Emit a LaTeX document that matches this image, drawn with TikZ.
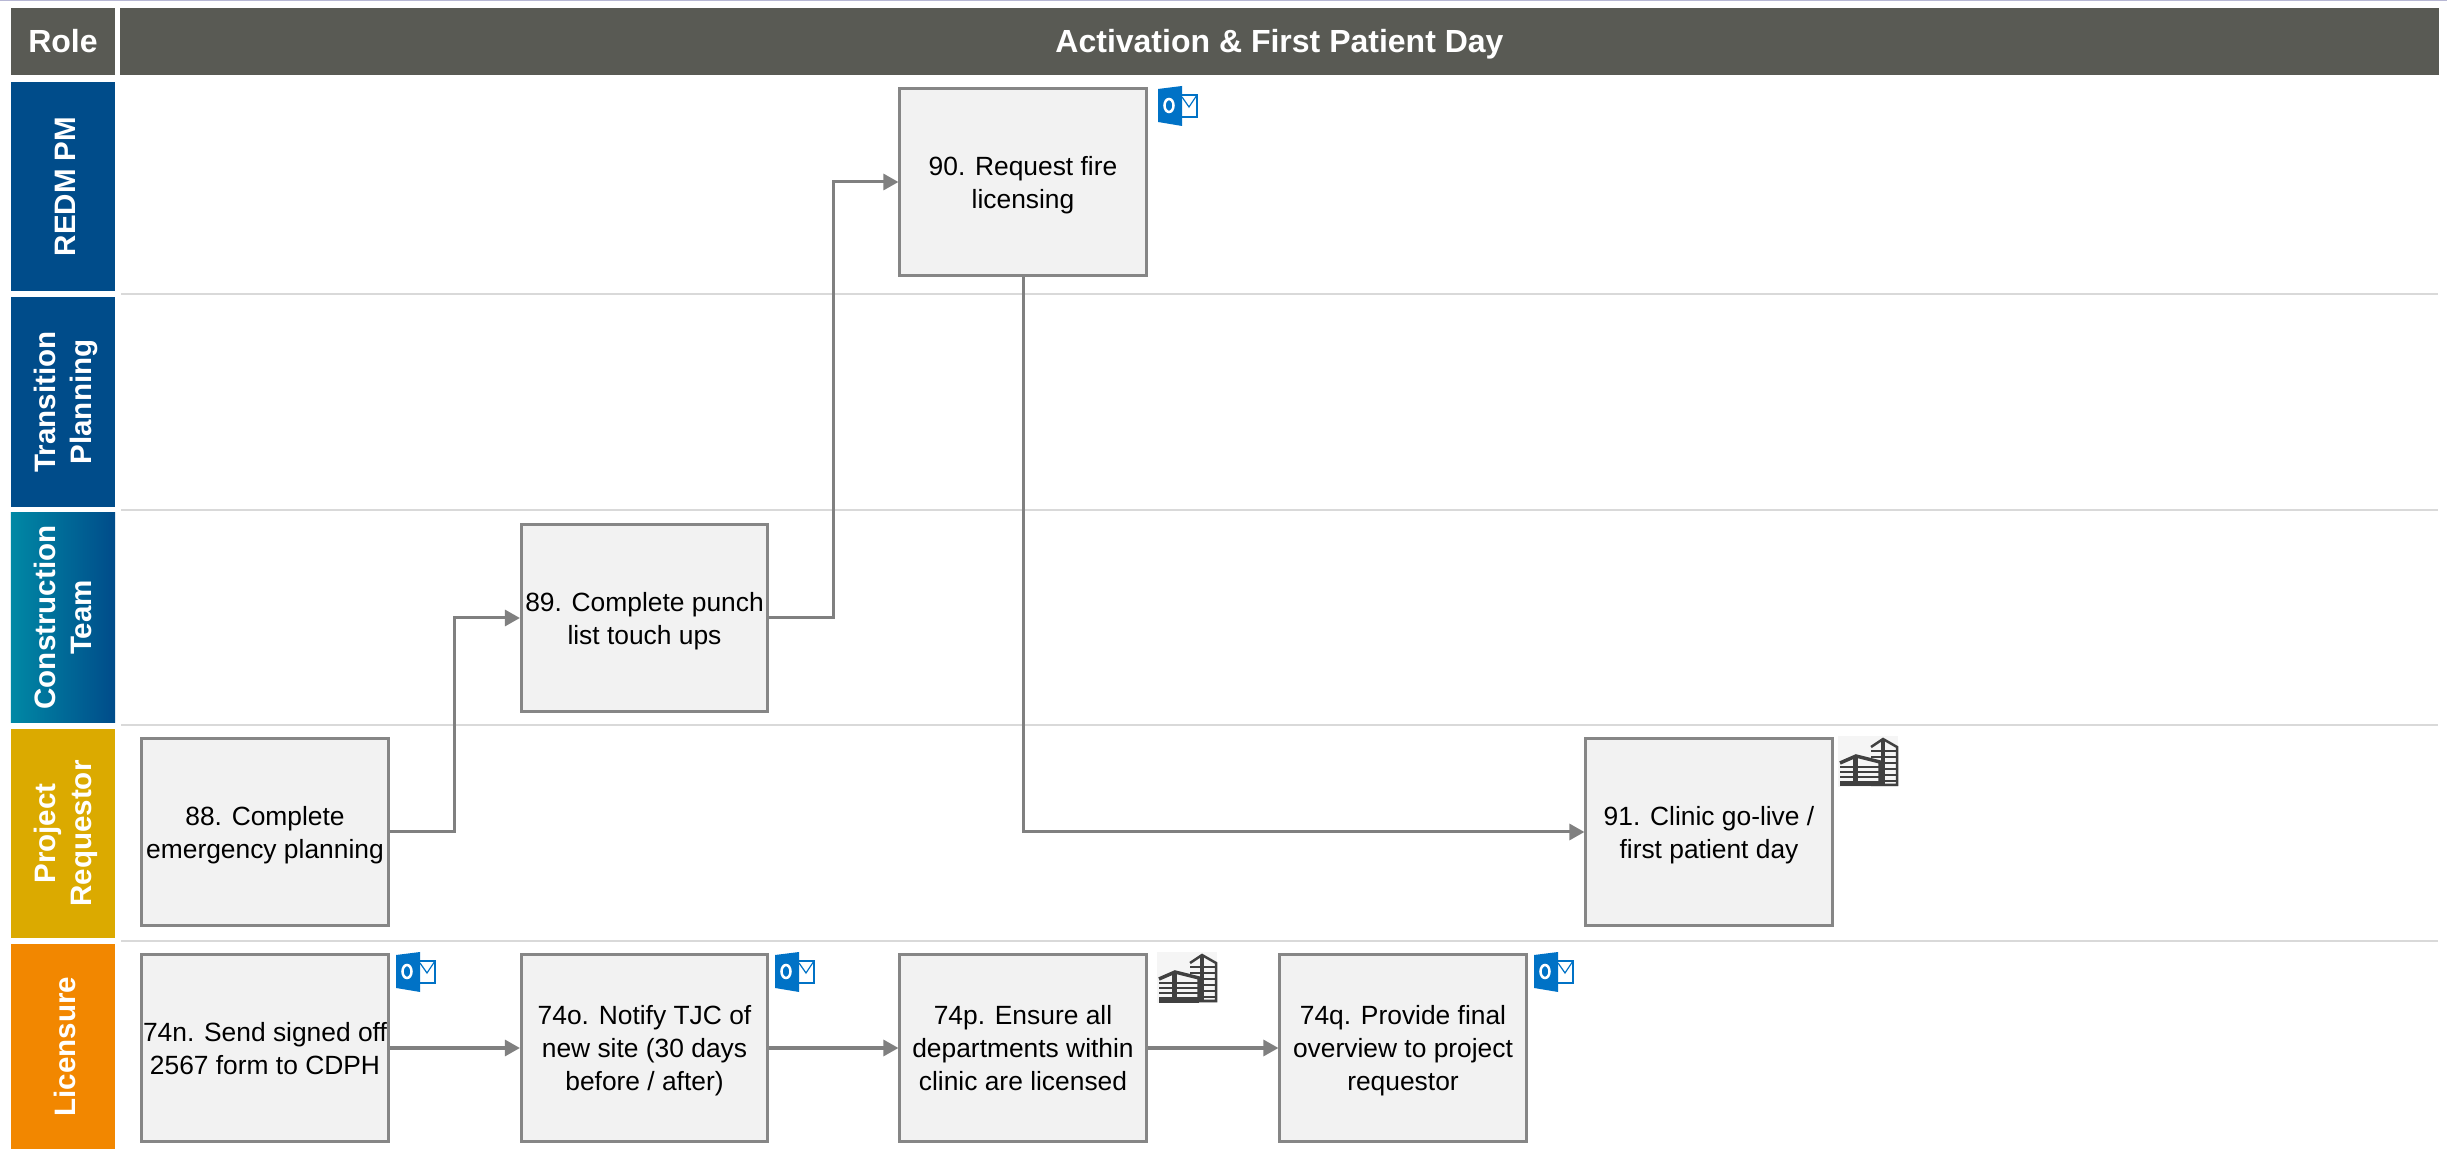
\documentclass[tikz,border=0pt]{standalone}
\usepackage{fontspec}
\setmainfont{Liberation Sans}
\usepackage{tikz}
\usetikzlibrary{arrows.meta}
\definecolor{headgrey}{HTML}{595A54}
\definecolor{laneblue}{HTML}{004C8A}
\definecolor{laneteal}{HTML}{0088A5}
\definecolor{laneyellow}{HTML}{DBAA00}
\definecolor{laneorange}{HTML}{F28700}
\definecolor{mailblue}{HTML}{0072C6}
\definecolor{cityink}{HTML}{404040}
\tikzset{
	headbox/.style={fill=headgrey, text=white, minimum height=0.67cm, inner sep=0pt, text height=6.5pt, text depth=0pt, font=\bfseries\fontsize{9.1}{11}\selectfont},
	lane/.style={rotate=90, minimum height=1.04cm, inner sep=0pt, align=center, text=white, text depth=0pt, font=\bfseries\fontsize{8.4}{10.1}\selectfont, execute at begin node={\rule{0pt}{7.3pt}}},
	stepbox/.style={draw=gray!95, line width=0.03cm, fill=black!5, minimum width=2.46cm, minimum height=1.87cm, inner sep=0pt, align=center, text depth=0pt, font=\fontsize{7.5}{9.4}\selectfont},
	flow/.style={draw=gray, line width=0.03cm, -{Triangle[length=0.15cm, width=0.16cm]}},
	laneline/.style={draw=black!15, line width=0.02cm},
	mailicon/.pic={
		\fill[mailblue] (0,3) -- (24,0) -- (24,40) -- (0,36) -- cycle;
		\draw[white, line width=0.025cm] (11,19.5) ellipse (4.5 and 6.5);
		\draw[mailblue, line width=0.012cm] (24,9) -- (39,9) -- (39,31) -- (24,31);
		\draw[mailblue, line width=0.012cm] (24,11) -- (31,21) -- (39,9);
	},
	cityicon/.pic={
		\fill[black!4] (0,0) rectangle (60,51);
		% back block
		\draw[cityink, line width=0.025cm] (33,11) -- (45,3) -- (59,11) -- (59,49) -- (33,49);
		\fill[cityink] (43,3) rectangle (47,49);
		\foreach \ypos in {15,21,27,33,39,45}
			\draw[cityink, line width=0.016cm] (33,\ypos) -- (59,\ypos);
		% front block
		\fill[black!4] (2,26) -- (18,19) -- (42,26) -- (42,49) -- (2,49) -- cycle;
		\draw[cityink, line width=0.035cm] (2,27) -- (18,20) -- (42,26) -- (42,49);
		\fill[cityink] (15,20) rectangle (20,49);
		\foreach \ypos in {31,36,41,46}
			\draw[cityink, line width=0.018cm] (2,\ypos) -- (42,\ypos);
		\draw[cityink, line width=0.03cm] (2,49) -- (42,49);
	}
}
\begin{document}
\begin{tikzpicture}[x=0.01cm, y=-0.01cm]
	\useasboundingbox (0,0) rectangle (2447,1149);
	\draw[color=blue!25!gray!45, line width=0.01cm] (0,0.5) -- (2447,0.5);
	% Header and lanes:
	\node[headbox, minimum width=1.04cm] (role) at (63,41.5) {Role};
	\node[headbox, minimum width=23.17cm] (phase) at (1279.5,41.5) {Activation \& First Patient Day};
	\node[lane, fill=laneblue, minimum width=2.09cm] (redm) at (63,186.5) {REDM PM};
	\node[lane, fill=laneblue, minimum width=2.10cm] (transition) at (63,402) {Transition\\Planning};
	\node[lane, left color=laneteal, middle color=laneteal, right color=laneblue, minimum width=2.09cm] (construction) at (63,617.5) {Construction\\Team};
	\node[lane, fill=laneyellow, minimum width=2.09cm] (requestor) at (63,833.5) {Project\\Requestor};
	\node[lane, fill=laneorange, minimum width=2.05cm] (licensure) at (63,1046.5) {Licensure};
	\foreach \ypos in {294,510,725,941}
		\draw[laneline] (121,\ypos) -- (2438,\ypos);
	% Steps:
	\node[stepbox] (n88) at (265,832) {88. Complete\\emergency planning};
	\node[stepbox] (n89) at (644.5,618) {89. Complete punch\\list touch ups};
	\node[stepbox] (n90) at (1023,182) {90. Request fire\\licensing};
	\node[stepbox] (n91) at (1709,832) {91. Clinic go-live /\\first patient day};
	\node[stepbox] (n74n) at (265,1048) {74n. Send signed off\\2567 form to CDPH};
	\node[stepbox] (n74o) at (644.5,1048) {74o. Notify TJC of\\new site (30 days\\before / after)};
	\node[stepbox] (n74p) at (1023,1048) {74p. Ensure all\\departments within\\clinic are licensed};
	\node[stepbox] (n74q) at (1403,1048) {74q. Provide final\\overview to project\\requestor};
	% Connectors:
	\draw[flow] (n88.east) -- ++(65,0) |- (n89.west);
	\draw[flow] (n89.east) -- ++(64,0) |- (n90.west);
	\draw[flow] (n90.south) |- (n91.west);
	\draw[flow] (n74n.east) -- (n74o.west);
	\draw[flow] (n74o.east) -- (n74p.west);
	\draw[flow] (n74p.east) -- (n74q.west);
	% Icons:
	\pic at (1158,86) {mailicon};
	\pic at (396,952) {mailicon};
	\pic at (775,952) {mailicon};
	\pic at (1534,952) {mailicon};
	\pic at (1157,952) {cityicon};
	\pic at (1838,736) {cityicon};
\end{tikzpicture}
\end{document}
